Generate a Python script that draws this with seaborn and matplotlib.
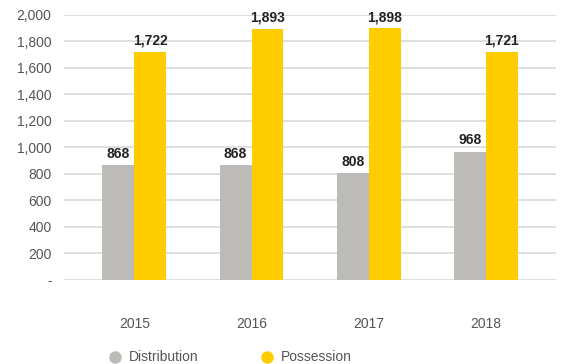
import matplotlib.pyplot as plt
from matplotlib.lines import Line2D
import pandas as pd
import seaborn as sns

# dati
anni = ["2015", "2016", "2017", "2018"]
distribution = [868, 868, 808, 968]
possession = [1722, 1893, 1898, 1721]
serie = ["Distribution", "Possession"]
colori = ["#BDBBB8", "#FFCC00"]
y_ticks = [0, 200, 400, 600, 800, 1000, 1200, 1400, 1600, 1800, 2000]

df = pd.DataFrame({
    "Anno": anni * 2,
    "Serie": [serie[0]] * len(anni) + [serie[1]] * len(anni),
    "Valore": distribution + possession,
})

sns.set_theme(style="white")
plt.rcParams["font.family"] = ["Liberation Sans", "DejaVu Sans"]

fig = plt.figure(figsize=(5.67, 3.64), dpi=100)
ax = fig.add_axes([0.113, 0.231, 0.868, 0.728])

sns.barplot(
    data=df, x="Anno", y="Valore", hue="Serie",
    palette=colori, width=0.545, gap=0, ax=ax, legend=False,
    saturation=1, linewidth=0, zorder=3,
)

# griglia orizzontale
ax.set_ylim(0, 2000)
ax.set_yticks(y_ticks)
ax.set_yticklabels(["-" if v == 0 else f"{v:,}" for v in y_ticks])
ax.yaxis.grid(True, color="#DCDCDC", linewidth=1.3, zorder=0)
ax.set_xlim(-0.6, 3.6)
ax.set_xlabel("")
ax.set_ylabel("")
for s in ax.spines.values():
    s.set_visible(False)
ax.tick_params(axis="y", length=0, pad=9, labelsize=10, labelcolor="#555555")
ax.tick_params(axis="x", length=0, pad=27, labelsize=10, labelcolor="#555555")

# etichette valori
for c in ax.containers:
    ax.bar_label(c, labels=[f"{v:,.0f}" for v in c.datavalues], padding=3,
                 fontsize=10, fontweight="bold", color="#222222")

# legenda
handles = [Line2D([], [], marker="o", linestyle="", markersize=8,
                  markerfacecolor=col, markeredgecolor=col) for col in colori]
fig.legend(handles, serie, loc="center left", bbox_to_anchor=(0.169, 0.018),
           ncol=2, frameon=False, fontsize=10, labelcolor="#555555",
           handletextpad=0.5, columnspacing=4.4, handlelength=1.0)

plt.savefig("out.png", dpi=100)
